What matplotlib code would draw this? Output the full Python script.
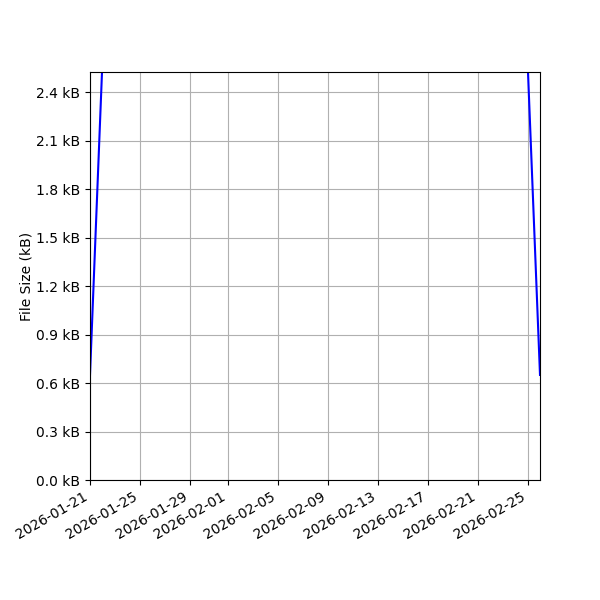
import matplotlib
matplotlib.use("Agg")
import matplotlib.pyplot as plt
import matplotlib.dates as mdates
from matplotlib.ticker import MultipleLocator, FuncFormatter
import pandas as pd

dates = ["2026-01-21", "2026-01-22", "2026-02-25", "2026-02-26"]
sizes_kb = [0.65, 2.60, 2.60, 0.65]

x = pd.to_datetime(dates)

fig = plt.figure(figsize=(6, 6), dpi=100)
ax = fig.add_axes([0.15, 0.2, 0.75, 0.68])
ax.plot(x, sizes_kb, color="blue", linewidth=1.5)

ax.set_xlim(pd.Timestamp("2026-01-21"), pd.Timestamp("2026-02-26"))
ax.set_ylim(0, 2.524)
ax.yaxis.set_major_locator(MultipleLocator(0.3))
ax.yaxis.set_major_formatter(FuncFormatter(lambda v, p: f"{v:.1f} kB"))
ax.xaxis.set_major_locator(mdates.DayLocator(bymonthday=[1, 5, 9, 13, 17, 21, 25, 29]))
ax.xaxis.set_major_formatter(mdates.DateFormatter("%Y-%m-%d"))
for lbl in ax.get_xticklabels():
    lbl.set_rotation(30)
    lbl.set_ha("right")
ax.set_ylabel("File Size (kB)", labelpad=2)
ax.grid(True, color="#b0b0b0")

fig.savefig("out.png", dpi=100)
